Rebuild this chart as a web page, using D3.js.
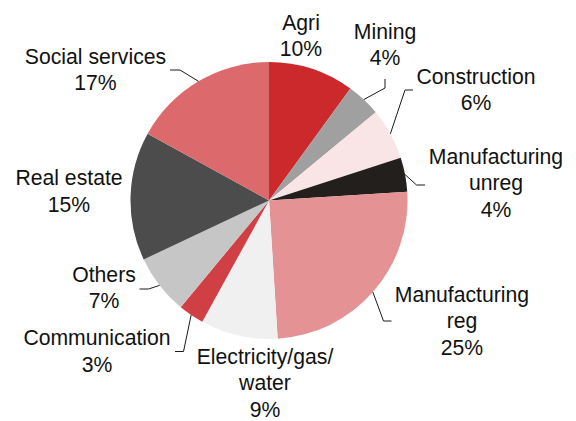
<!DOCTYPE html>
<html>
<head>
<meta charset="utf-8">
<script src="https://cdn.jsdelivr.net/npm/d3@7"></script>
<style>
  html, body { margin: 0; padding: 0; background: #fff; }
  svg { display: block; }
  text { font-family: "Liberation Sans", Arial, sans-serif; font-size: 21.2px; fill: #111; }
</style>
</head>
<body>
<svg id="chart" width="576" height="421"></svg>
<script>
// Share of output by sector (%), clockwise from 12 o'clock
const sectors = ["Agri", "Mining", "Construction", "Manufacturing unreg", "Manufacturing reg",
                 "Electricity/gas/water", "Communication", "Others", "Real estate", "Social services"];
const shares = [10, 4, 6, 4, 25, 9, 3, 7, 15, 17];
const labelLines = [
  ["Agri"], ["Mining"], ["Construction"], ["Manufacturing", "unreg"], ["Manufacturing", "reg"],
  ["Electricity/gas/", "water"], ["Communication"], ["Others"], ["Real estate"], ["Social services"]
];
const colors = ["#cc292d", "#a0a0a0", "#f9e5e5", "#231f1c", "#e59294",
                "#f0f0f0", "#d03f43", "#c6c6c6", "#4c4c4c", "#dc696c"];

// Label placement: text centre x, first baseline y, optional leader elbow and end points
const layout = {
  "Agri":                  { x: 301, y: 29.5 },
  "Mining":                { x: 385, y: 38.5, leader: [[385, 88], [385, 79]] },
  "Construction":          { x: 476, y: 83.5, leader: [[405, 90], [413, 90]] },
  "Manufacturing unreg":   { x: 496, y: 163.5, leader: [[416.5, 185], [425, 185]] },
  "Manufacturing reg":     { x: 462, y: 301.5, leader: [[383.5, 321], [391.5, 321]] },
  "Electricity/gas/water": { x: 265, y: 363.5 },
  "Communication":         { x: 97, y: 345, leader: [[183.5, 351.5], [175, 351.5]] },
  "Others":                { x: 104, y: 281.5, leader: [[148.5, 289], [139.5, 289]] },
  "Real estate":           { x: 69, y: 185 },
  "Social services":       { x: 95.5, y: 63.5, leader: [[180, 70], [170, 70]] }
};

const cx = 269, cy = 200.5, radius = 138.5, lineGap = 26.7;

const svg = d3.select("#chart");
const g = svg.append("g").attr("transform", `translate(${cx},${cy})`);

const data = sectors.map((name, i) => ({ name, value: shares[i], lines: labelLines[i], color: colors[i] }));

const pie = d3.pie().value(d => d.value).sort(null);
const arc = d3.arc().innerRadius(0).outerRadius(radius);
const arcs = pie(data);

g.selectAll("path.slice")
  .data(arcs)
  .join("path")
  .attr("class", "slice")
  .attr("d", arc)
  .attr("fill", d => d.data.color);

// Leader lines from each slice's outer edge at mid-angle
const leaders = svg.append("g");
arcs.forEach(a => {
  const L = layout[a.data.name];
  if (!L.leader) return;
  const mid = (a.startAngle + a.endAngle) / 2;
  const start = [cx + radius * Math.sin(mid), cy - radius * Math.cos(mid)];
  leaders.append("path")
    .attr("d", d3.line()([start, ...L.leader]))
    .attr("fill", "none")
    .attr("stroke", "#1a1a1a")
    .attr("stroke-width", 1);
});

// Category names with percentage on the last line
const labels = svg.append("g");
arcs.forEach(a => {
  const L = layout[a.data.name];
  const lines = [...a.data.lines, a.data.value + "%"];
  const t = labels.append("text").attr("text-anchor", "middle");
  lines.forEach((s, i) => {
    t.append("tspan").attr("x", L.x).attr("y", L.y + i * lineGap).text(s);
  });
});
</script>
</body>
</html>
